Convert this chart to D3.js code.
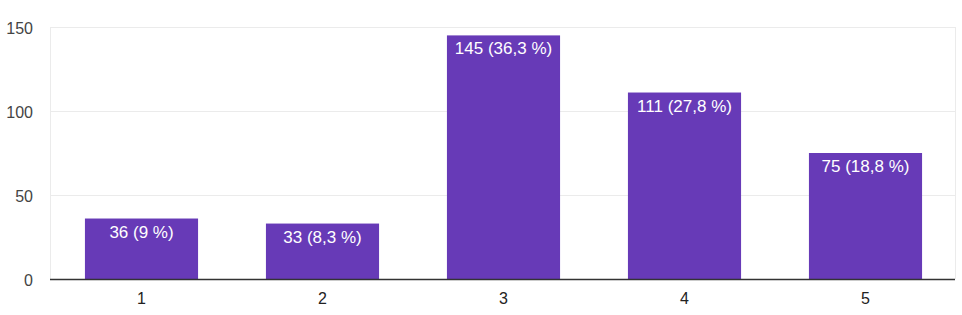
<!DOCTYPE html>
<html><head><meta charset="utf-8">
<script src="https://cdn.jsdelivr.net/npm/d3@7/dist/d3.min.js"></script>
<style>body{margin:0;background:#fff}svg{display:block}</style>
</head><body>
<svg id="c" width="962" height="315"></svg>
<script>
const categories = ["1","2","3","4","5"];
const counts = [36, 33, 145, 111, 75];
const labels = ["36 (9 %)","33 (8,3 %)","145 (36,3 %)","111 (27,8 %)","75 (18,8 %)"];
const yTicks = [0, 50, 100, 150];

const svg = d3.select("#c");
const m = {l:50, r:7, t:27, b:36};
const W = 962, H = 315;
const x = d3.scaleBand().domain(categories).range([m.l, W - m.r]).padding(0);
const y = d3.scaleLinear().domain([0,150]).range([H - m.b, m.t]);
const font = "Liberation Sans, Arial, sans-serif";

// grid
svg.append("g").selectAll("line").data(yTicks.filter(d=>d>0)).join("line")
  .attr("x1", m.l).attr("x2", W - m.r)
  .attr("y1", d=>y(d)+0.5).attr("y2", d=>y(d)+0.5)
  .attr("stroke", "#ebebeb").attr("stroke-width", 1);
[m.l, W - m.r].forEach(xx => svg.append("line")
  .attr("x1", xx+0.5).attr("x2", xx+0.5).attr("y1", y(150)).attr("y2", y(0))
  .attr("stroke", "#ebebeb"));

// y axis labels
const yAxis = d3.axisLeft(y).tickValues(yTicks).tickSize(0).tickPadding(17);
const ya = svg.append("g").attr("transform", `translate(${m.l},1)`).call(yAxis);
ya.select(".domain").remove();
ya.selectAll("text").attr("font-family", font).attr("font-size", 16).attr("fill", "#444");

// bars
const bw = x.bandwidth() * 0.625;
svg.append("g").selectAll("rect").data(counts).join("rect")
  .attr("x", (d,i)=> x(categories[i]) + x.bandwidth()/2 - bw/2 + 1)
  .attr("width", bw)
  .attr("y", d=>y(d)).attr("height", d=>y(0)-y(d))
  .attr("fill", "#673ab7");

svg.append("g").selectAll("text").data(counts).join("text")
  .attr("x", (d,i)=> x(categories[i]) + x.bandwidth()/2 + 1)
  .attr("y", d=>y(d) + 19)
  .attr("text-anchor", "middle")
  .attr("font-family", font).attr("font-size", 17).attr("fill", "#fff")
  .text((d,i)=>labels[i]);

// baseline
svg.append("line").attr("x1", m.l).attr("x2", W - m.r)
  .attr("y1", y(0)+0.5).attr("y2", y(0)+0.5)
  .attr("stroke", "#333").attr("stroke-width", 1.5);

// x axis
const xAxis = d3.axisBottom(x).tickSize(0).tickPadding(14);
const xa = svg.append("g").attr("transform", `translate(1,${y(0)})`).call(xAxis);
xa.select(".domain").remove();
xa.selectAll("text").attr("font-family", font).attr("font-size", 16).attr("fill", "#222");
</script>
</body></html>
